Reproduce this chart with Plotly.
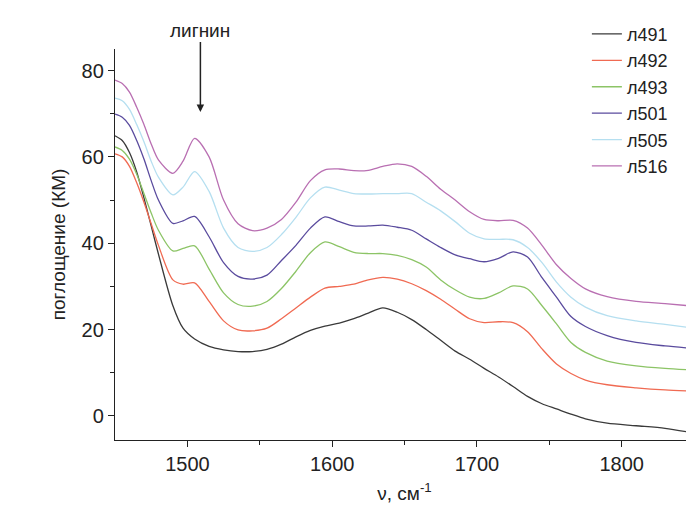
import plotly.graph_objects as go

wavenumber = [1450, 1455, 1460, 1465, 1470, 1475, 1480, 1490, 1497, 1505, 1515, 1525,
              1535, 1545, 1555, 1565, 1575, 1585, 1595, 1605, 1615, 1625, 1635, 1645,
              1655, 1665, 1675, 1685, 1695, 1705, 1715, 1725, 1735, 1745, 1755, 1765,
              1775, 1790, 1810, 1830, 1850]

l491 = [64.9, 63.8, 61, 56.5, 50.5, 44, 37.5, 25.5, 20.3, 17.8, 16.1, 15.3,
        14.9, 14.9, 15.4, 16.6, 18.3, 19.8, 20.8, 21.5, 22.5, 23.8, 25, 24,
        22.3, 20, 17.5, 15, 13.1, 11, 9, 6.8, 4.5, 2.8, 1.6, 0.4,
        -0.7, -1.7, -2.3, -2.9, -4]
l492 = [60.7, 60, 57.8, 54, 49.5, 44.5, 39.5, 31.5, 30.5, 30.8, 26.5, 22,
        19.9, 19.7, 20.3, 22.5, 25, 27.5, 29.6, 30, 30.5, 31.5, 32.1, 31.7,
        30.6, 29, 27, 24.7, 22.5, 21.6, 21.8, 21.6, 19.5, 15.5, 12, 9.8,
        8.3, 7.2, 6.5, 6, 5.7]
l493 = [62.3, 61.5, 59.5, 56, 51.5, 47, 43, 38.2, 38.8, 39.4, 34, 28.5,
        25.8, 25.4, 26.5, 29.5, 33.5, 37.8, 40.3, 39.2, 37.9, 37.6, 37.6, 37.2,
        36.2, 34.5, 31.5, 29.2, 27.5, 27.2, 28.5, 30.1, 29.4, 25.5, 21.3, 17,
        14.7, 12.7, 11.6, 11, 10.6]
l501 = [69.9, 69.2, 67.3, 63.8, 59.5, 54.5, 50, 44.6, 45.2, 46.2, 41.5, 35.5,
        32.3, 31.7, 32.6, 36, 39.5, 43.5, 46.1, 45, 44, 44, 44.2, 43.7,
        43, 41, 39, 37.3, 36.4, 35.7, 36.5, 38, 36.8, 32, 27.5, 23,
        20.7, 18.6, 17, 16.2, 15.6]
l505 = [73.6, 73, 71, 67.5, 63.5, 59, 55.3, 51.2, 53, 56.6, 52, 43.5,
        39, 38.1, 39, 42, 46, 50.5, 53, 52.3, 51.5, 51.4, 51.5, 51.5,
        51.5, 49.5, 47.5, 45, 42.3, 41, 40.9, 40.8, 39, 35.5, 31, 27.5,
        25.2, 23.2, 22, 21.2, 20.3]
l516 = [77.8, 77, 75, 71.5, 67.5, 63, 59.3, 56.2, 59, 64.3, 60, 50,
        44.5, 42.9, 43.5, 45.5, 49.5, 54.5, 57, 57.2, 56.8, 56.9, 57.8, 58.4,
        57.8, 55.5, 52.5, 50, 47.3, 45.5, 45.2, 45.3, 43.5, 39.5, 35, 31.8,
        29.4, 27.6, 26.5, 26, 25.4]

series_names = ["л491", "л492", "л493", "л501", "л505", "л516"]
series_values = [l491, l492, l493, l501, l505, l516]
series_colors = ["#3a3a3a", "#f06a52", "#8cc466", "#5a4b9e", "#b5dff0", "#b96fb2"]

fig = go.Figure()
for name, vals, col in zip(series_names, series_values, series_colors):
    fig.add_trace(go.Scatter(x=wavenumber, y=vals, name=name, mode="lines",
                             line=dict(color=col, width=1.3, shape="spline", smoothing=0.8)))

font_family = "Liberation Sans, Arial, sans-serif"
fig.update_layout(
    width=694, height=505,
    margin=dict(l=107, r=8, t=38, b=73),
    paper_bgcolor="white", plot_bgcolor="white",
    font=dict(family=font_family, size=19, color="#222"),
    showlegend=True,
    legend=dict(x=0.815, y=1.085, xanchor="left", yanchor="top",
                font=dict(size=18, color="#222"), bgcolor="rgba(0,0,0,0)",
                tracegroupgap=0, itemwidth=30),
    xaxis=dict(range=[1450, 1850], tickmode="array", tickvals=[1500, 1600, 1700, 1800],
               ticks="outside", ticklen=6, tickwidth=1.2, tickcolor="#222",
               showline=True, linecolor="#222", linewidth=1.3, showgrid=False, zeroline=False,
               minor=dict(tickvals=[1550, 1650, 1750, 1850], ticks="outside", ticklen=4,
                          tickcolor="#222", tickwidth=1.2),
               tickfont=dict(size=20),
               title=dict(text="ν, см<sup>-1</sup>", font=dict(size=19), standoff=12)),
    yaxis=dict(range=[-5.6, 85], tickmode="array", tickvals=[0, 20, 40, 60, 80],
               ticks="outside", ticklen=6, tickwidth=1.2, tickcolor="#222",
               showline=True, linecolor="#222", linewidth=1.3, showgrid=False, zeroline=False,
               minor=dict(tickvals=[10, 30, 50, 70], ticks="outside", ticklen=4,
                          tickcolor="#222", tickwidth=1.2),
               tickfont=dict(size=20),
               title=dict(text="поглощение (КМ)", font=dict(size=19), standoff=10)),
)

fig.add_annotation(x=1509, y=70.4, xref="x", yref="y", text="лигнин",
                   showarrow=True, arrowhead=2, arrowsize=1, arrowwidth=1.5,
                   arrowcolor="#222", ax=0, ay=-82, font=dict(size=19, color="#222"))

fig.write_html("out.html")
